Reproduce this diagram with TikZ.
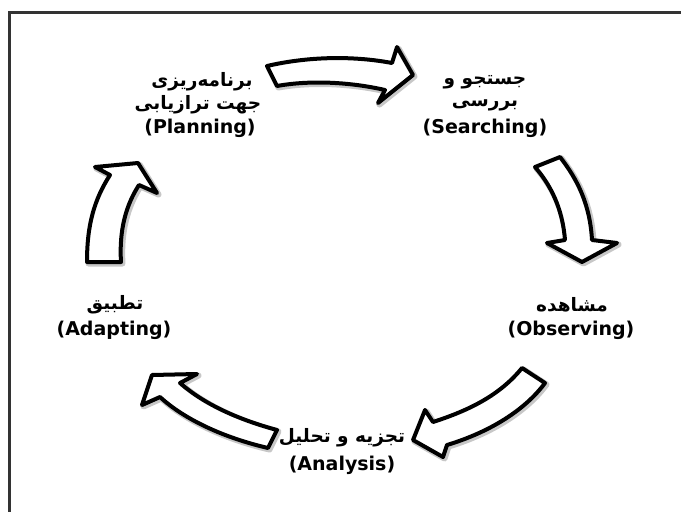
\documentclass[tikz,border=0pt]{standalone}
\usepackage{fontspec}
\setmainfont{DejaVu Sans}
\newfontfamily\fa[Script=Arabic]{DejaVu Sans}
\TeXXeTstate=1
\tikzset{
  blockarrow/.style={draw=black, fill=white, line width=4pt, line join=round},
  shadowarrow/.style={draw=black!22, line width=6pt, line join=round},
  en/.style={inner sep=0pt, font=\fontsize{19}{22}\selectfont\bfseries},
  faline/.style={inner sep=0pt, font=\fa\fontsize{18.5}{22}\selectfont\bfseries},
  frame/.style={draw=black!80, line width=3pt}
}
\begin{document}
\begin{tikzpicture}[x=1pt,y=-1pt]
\useasboundingbox (0,0) rectangle (681,512);
% frame
\coordinate (fTR) at (681,12);
\coordinate (fTL) at (9,12);
\coordinate (fBL) at (9,512);
\draw[frame] (fTR) -- (fTL) -- (fBL);

% shapes of arrows (shadows first)
\def\arrA{(267,66) .. controls (310,56) and (355,56) .. (392,63) -- (397,47) -- (413,75) -- (378,103) -- (385,90) .. controls (350,82) and (310,80) .. (277,86) -- cycle}
\def\arrB{(535,167) .. controls (555,190) and (563,215) .. (565,240) -- (547,243) -- (582,262) -- (617,243) -- (592,240) .. controls (590,205) and (578,180) .. (560,157) -- cycle}
\def\arrC{(522,368) .. controls (500,395) and (470,410) .. (433,422) -- (425,410) -- (413,440) -- (443,457) -- (447,445) .. controls (490,432) and (525,410) .. (545,383) -- cycle}
\def\arrD{(277,430) .. controls (240,420) and (205,405) .. (180,383) -- (197,374) -- (152,375) -- (142,405) -- (160,397) .. controls (185,420) and (225,438) .. (268,448) -- cycle}
\def\arrE{(87,262) .. controls (87,225) and (94,200) .. (110,175) -- (95,167) -- (138,163) -- (157,193) -- (139,185) .. controls (126,205) and (119,230) .. (121,262) -- cycle}
\foreach \p in {\arrA,\arrB,\arrC,\arrD,\arrE}{
  \draw[shadowarrow, xshift=1.5pt, yshift=-1.5pt] \p;
}
\draw[blockarrow] \arrA;
\draw[blockarrow] \arrB;
\draw[blockarrow] \arrC;
\draw[blockarrow] \arrD;
\draw[blockarrow] \arrE;

% labels
\node[faline] (plan1) at (202,82) {\beginR برنامه‌ریزی\endR};
\node[faline] (plan2) at (198,105) {\beginR جهت ترازیابی\endR};
\node[en] (plan3) at (200,128) {(Planning)};

\node[faline] (srch1) at (485,82) {\beginR جستجو و\endR};
\node[faline] (srch2) at (485,105) {\beginR بررسی\endR};
\node[en] (srch3) at (485,128) {(Searching)};

\node[faline] (obs1) at (572,305) {\beginR مشاهده\endR};
\node[en] (obs2) at (571,330) {(Observing)};

\node[faline] (adp1) at (115,305) {\beginR تطبیق\endR};
\node[en] (adp2) at (114,330) {(Adapting)};

\node[faline] (ana1) at (342,438) {\beginR تجزیه و تحلیل\endR};
\node[en] (ana2) at (342,465) {(Analysis)};
\end{tikzpicture}
\end{document}
